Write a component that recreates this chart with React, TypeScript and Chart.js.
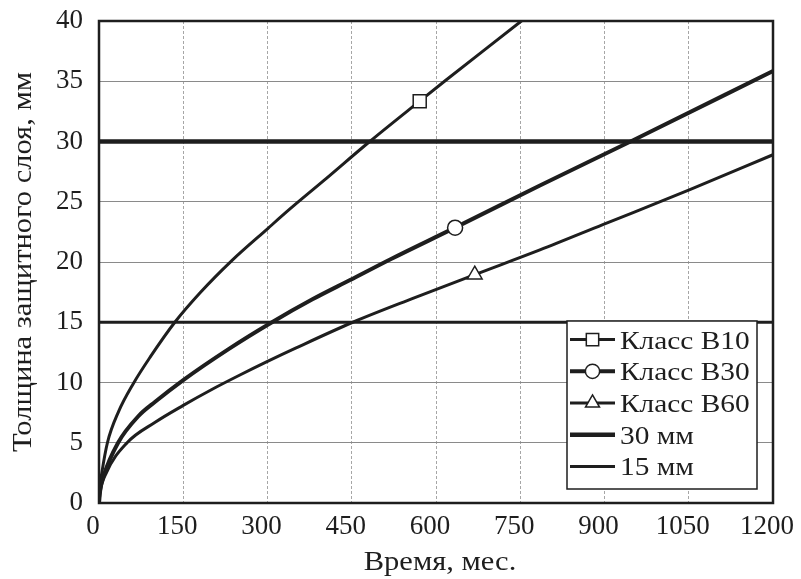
import React, { useEffect, useRef } from "react";
import { Chart, registerables } from "chart.js";

Chart.register(...registerables);

// ---- data ----
const xTickStep = 150;
const xMax = 1200;
const yTickStep = 5;
const yMax = 40;

const b10Months = [0, 2, 5, 15, 35, 61, 91, 135, 180, 236, 301, 340, 400, 482, 571, 618, 752, 800];
const b10Depth = [0, 1.5, 2.5, 5, 7.6, 9.9, 12.1, 15, 17.45, 20.1, 22.8, 24.4, 26.75, 30, 33.35, 35.1, 40, 41.8];

const b30Months = [0, 2, 8, 34, 70, 100, 150, 230, 308, 380, 447, 520, 634, 785, 951, 1200];
const b30Depth = [0, 1.0, 2.2, 5, 7.2, 8.4, 10.2, 12.75, 15, 16.9, 18.5, 20.25, 22.85, 26.35, 30.1, 35.85];

const b60Months = [0, 2, 12, 50, 100, 150, 200, 250, 300, 350, 452, 560, 669, 785, 897, 1052, 1200];
const b60Depth = [0, 0.9, 2.4, 5, 6.7, 8.1, 9.4, 10.6, 11.75, 12.85, 15, 17, 18.95, 21.0, 23.1, 26.0, 28.9];

const limitMonths = [0, 1200];
const limit30Depth = [30, 30];
const limit15Depth = [15, 15];

const seriesLabels = ["Класс В10", "Класс В30", "Класс В60", "30 мм", "15 мм"];
const markerMonths = [571, 634, 669];
const xTitle = "Время, мес.";
const yTitle = "Толщина защитного слоя, мм";

// ---- styling ----
const FONT = "'Liberation Serif', 'Times New Roman', serif";
const INK = "#1e1e1e";
const TEXT_STRETCH = 1.13;

const toPoints = (xs: number[], ys: number[]) => xs.map((x, i) => ({ x, y: ys[i] }));

type Style = { width: number; marker: string | false; radius: number };
const styles: Style[] = [
  { width: 3, marker: "rect", radius: 9.2 },
  { width: 4, marker: "circle", radius: 7.5 },
  { width: 3, marker: "triangle", radius: 8.5 },
  { width: 4.5, marker: false, radius: 0 },
  { width: 3, marker: false, radius: 0 },
];

function drawMarker(ctx: CanvasRenderingContext2D, style: string, cx: number, cy: number, r: number) {
  ctx.save();
  ctx.fillStyle = "#fff";
  ctx.strokeStyle = INK;
  ctx.lineWidth = 1.5;
  ctx.beginPath();
  if (style === "rect") {
    const h = r * Math.SQRT1_2;
    ctx.rect(cx - h, cy - h, 2 * h, 2 * h);
  } else if (style === "circle") {
    ctx.arc(cx, cy, r, 0, Math.PI * 2);
  } else if (style === "triangle") {
    for (let k = 0; k < 3; k++) {
      const a = -Math.PI / 2 + (k * 2 * Math.PI) / 3;
      const px = cx + Math.cos(a) * r;
      const py = cy + Math.sin(a) * r;
      if (k === 0) ctx.moveTo(px, py);
      else ctx.lineTo(px, py);
    }
    ctx.closePath();
  }
  ctx.fill();
  ctx.stroke();
  ctx.restore();
}

function stretchedText(
  ctx: CanvasRenderingContext2D,
  text: string,
  x: number,
  y: number,
  size: number,
  align: CanvasTextAlign,
  baseline: CanvasTextBaseline,
  rotate = 0
) {
  ctx.save();
  ctx.translate(x, y);
  if (rotate) ctx.rotate(rotate);
  ctx.scale(TEXT_STRETCH, 1);
  ctx.font = `${size}px ${FONT}`;
  ctx.fillStyle = INK;
  ctx.textAlign = align;
  ctx.textBaseline = baseline;
  ctx.fillText(text, 0, 0);
  ctx.restore();
}

const framePlugin = {
  id: "frameAndLegend",
  afterDraw(chart: any) {
    const ctx: CanvasRenderingContext2D = chart.ctx;
    const { left, top, right, bottom } = chart.chartArea;
    ctx.save();
    ctx.strokeStyle = INK;
    ctx.lineWidth = 2.5;
    ctx.strokeRect(left, top, right - left, bottom - top);

    // axis titles
    stretchedText(ctx, xTitle, (left + right) / 2 + 4, 570, 27, "center", "alphabetic");
    stretchedText(ctx, yTitle, 31, (top + bottom) / 2, 27, "center", "alphabetic", -Math.PI / 2);

    // legend box inside the plot area (bottom right)
    const boxL = right - 206;
    const boxT = bottom - 182;
    const boxR = right - 16;
    const boxB = bottom - 14;
    ctx.fillStyle = "#fff";
    ctx.fillRect(boxL, boxT, boxR - boxL, boxB - boxT);
    ctx.lineWidth = 1.5;
    ctx.strokeStyle = INK;
    ctx.strokeRect(boxL, boxT, boxR - boxL, boxB - boxT);

    const rowH = 31.7;
    chart.data.datasets.forEach((ds: any, i: number) => {
      const st = styles[i];
      const ly = boxT + 18.6 + i * rowH;
      const x0 = boxL + 3;
      const x1 = boxL + 48;
      ctx.strokeStyle = INK;
      ctx.lineWidth = Math.min(st.width, 4.5);
      ctx.beginPath();
      ctx.moveTo(x0, ly);
      ctx.lineTo(x1, ly);
      ctx.stroke();
      if (st.marker) drawMarker(ctx, st.marker, (x0 + x1) / 2, ly, st.radius * 0.95);
      stretchedText(ctx, ds.label, boxL + 53, ly + 9, 26, "left", "alphabetic");
    });
    ctx.restore();
  },
};

const zeroPadding = (s: any) => {
  s.paddingTop = 0;
  s.paddingBottom = 0;
  s.paddingLeft = 0;
  s.paddingRight = 0;
};

export default function App() {
  const ref = useRef<HTMLCanvasElement>(null);

  useEffect(() => {
    const series = [
      toPoints(b10Months, b10Depth),
      toPoints(b30Months, b30Depth),
      toPoints(b60Months, b60Depth),
      toPoints(limitMonths, limit30Depth),
      toPoints(limitMonths, limit15Depth),
    ];
    const datasets = series.map((data, i) => {
      const st = styles[i];
      const mx = markerMonths[i];
      return {
        label: seriesLabels[i],
        data,
        borderColor: INK,
        borderWidth: st.width,
        backgroundColor: "#fff",
        fill: false,
        cubicInterpolationMode: "monotone" as const,
        pointStyle: st.marker || "circle",
        pointRadius: (c: any) => (st.marker && c.raw && c.raw.x === mx ? st.radius : 0),
        pointHoverRadius: 0,
        pointBackgroundColor: "#fff",
        pointBorderColor: INK,
        pointBorderWidth: 1.5,
      };
    });

    const chart = new Chart(ref.current as HTMLCanvasElement, {
      type: "line",
      data: { datasets },
      options: {
        animation: false,
        responsive: false,
        devicePixelRatio: 1,
        events: [],
        layout: { padding: { top: 21, right: 28, bottom: 0, left: 0 } },
        plugins: { legend: { display: false }, tooltip: { enabled: false } },
        scales: {
          x: {
            type: "linear",
            min: 0,
            max: xMax,
            afterFit: (s: any) => {
              s.height = 76;
              zeroPadding(s);
            },
            ticks: {
              stepSize: xTickStep,
              autoSkip: false,
              maxRotation: 0,
              padding: 8,
              labelOffset: -6,
              color: INK,
              font: { family: FONT, size: 27 },
              callback: (v: any) => String(v),
            },
            grid: { color: "#a6a6a6", lineWidth: 1, drawTicks: false },
            border: { display: false, dash: [3, 2] },
            title: { display: false },
          },
          y: {
            type: "linear",
            min: 0,
            max: yMax,
            afterFit: (s: any) => {
              s.width = 99;
              zeroPadding(s);
            },
            ticks: {
              stepSize: yTickStep,
              padding: 16,
              color: INK,
              font: { family: FONT, size: 27 },
              callback: (v: any) => String(v),
            },
            grid: { color: "#8a8a8a", lineWidth: 1, drawTicks: false },
            border: { display: false },
            title: { display: false },
          },
        },
      },
      plugins: [framePlugin],
    });
    return () => chart.destroy();
  }, []);

  return (
    <div style={{ position: "absolute", left: 0, top: 0, width: 801, height: 579, background: "#fff" }}>
      <canvas ref={ref} width={801} height={579} style={{ display: "block" }} />
    </div>
  );
}
